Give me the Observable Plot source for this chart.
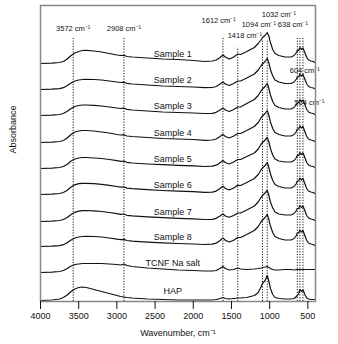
<!DOCTYPE html>
<html>
<head>
<meta charset="utf-8">
<script src="https://cdn.jsdelivr.net/npm/d3@7"></script>
<script src="https://cdn.jsdelivr.net/npm/@observablehq/plot@0.6"></script>
<style>
  html, body { margin: 0; padding: 0; background: #fff; }
  #chart svg { display: block; }
</style>
</head>
<body>
<div id="chart"></div>
<script>
// Wavenumber grid (cm-1)
const wavenumber = [4000,3850,3750,3700,3650,3600,3550,3500,3450,3400,
 3300,3200,3100,3000,2950,2908,2870,2800,2600,2400,
 2200,2000,1850,1750,1700,1650,1612,1580,1530,1470,
 1418,1380,1300,1200,1150,1110,1094,1060,1032,1010,
 990,960,930,880,800,720,680,650,638,620,
 604,585,564,540,515,490,460,430,400];

// Absorbance (arbitrary units, relative to each trace's baseline)
const sample1 = [0,0.3,1,2,4.5,8,10.5,12,13,13.2,
 12.5,11.5,10,8.5,8,8.2,7,6.5,5.5,4.5,
 4,3,2,2.5,3.5,6,8.5,6.5,4.5,6.5,
 9.5,9,12,16,20,24,26,28,31,27,
 21,14,10,8,6.5,6.5,8,11,13,13,
 16,14,15.5,11,6,3.5,2.5,2,0.5];
const sample2 = [0,0.3,0.8,1.8,4,6.5,8.5,9.5,10,10.2,
 10,9.5,8.5,7.5,7,7.3,6.2,5.5,4.5,3.5,
 3,2.5,1.8,2,3,5.5,7.5,5.5,4,6,
 8.5,8.5,11.5,15.5,19.5,24,25.5,28,31,26.5,
 20,13.5,9.5,7.5,6,6,7.5,10.5,12.5,12.5,
 15.5,13.5,15,10.5,5.5,3,2,1.5,0.5];
const sample3 = [0,0.3,1,2,4.2,7,9,10,10.5,10.5,
 10.2,9.5,8.5,7.5,7,7.4,6.2,5.5,4.5,3.5,
 3,2.5,2,2.2,3.2,5.5,7.5,5.5,4,6,
 8.5,8.5,12,16,20,25,26.5,29,32,27,
 20.5,14,10,8,6.5,6.5,8,11,13,13,
 16,14,15.5,11,6,3.5,2.5,2,0.5];
const sample4 = [0,0.3,1,2,4.5,8,10.5,11.5,12,12,
 11.5,10.5,9.5,8,7.5,7.8,6.5,6,5,4,
 3.5,3,2.2,2.5,3.5,6,8,6,4.5,6.5,
 9,9,12,16,20,25,26.5,29,32,27,
 20.5,14,10,8,6.5,6.5,8,11,13.5,13.5,
 16.5,14.5,16,11,6,3.5,2.5,2,0.5];
const sample5 = [0,0.3,1,2,4.2,7.5,9.5,10.5,11,11,
 10.5,10,9,7.8,7.2,7.5,6.2,5.5,4.5,3.8,
 3.2,2.7,2,2.3,3.3,5.8,8,6,4.5,6.5,
 9,9,12,15.5,19.5,24.5,26,28.5,31,26.5,
 20,13.5,9.5,7.5,6.5,6.5,8,11,13,13,
 16,14,15.5,11,6,3.5,2.5,2,0.5];
const sample6 = [0,0.3,1,2,4.3,7.5,9.7,10.8,11.2,11.2,
 10.8,10.2,9.2,8,7.4,7.7,6.4,5.8,4.8,4,
 3.4,2.8,2.1,2.4,3.4,6,8.2,6,4.5,6.5,
 9.2,9,12,16,20,25,26.5,29,32,27,
 20.5,14,10,8,6.5,6.5,8,11,13.5,13.5,
 16.5,14.5,16,11,6,3.5,2.5,2,0.5];
const sample7 = [0,0.3,1,2,4,7,9.2,10.3,10.8,11,
 10.6,10,9,7.8,7.2,7.5,6.2,5.6,4.6,3.8,
 3.2,2.6,2,2.2,3.2,5.5,7.5,5.5,4.2,6,
 8.5,8.5,11.5,15.5,19.5,24.5,26,28.5,31,26,
 19.5,13.5,9.5,7.5,6.5,6.5,8,11,13,13,
 16,14,15.5,11,6,3.5,2.5,2,0.5];
const sample8 = [0,0.3,0.9,1.8,3.8,6.5,8.5,9.5,10,10.2,
 10,9.5,8.5,7.3,6.8,7.1,6,5.4,4.4,3.6,
 3,2.5,2,2.3,3.3,6,8.5,6.3,4.5,6.3,
 9,9,12,16,20,25,26.5,29,32,27,
 20.5,14,10,8,6.5,6.5,8,11,13.5,13.5,
 16.5,14.5,16,11,6,3.5,2.5,2,0.5];
const tcnfNa = [0,0.3,1,2,4,6.5,8,8.5,9,9,
 9,9,8.5,8,7.5,8.5,7,6,4.5,3.5,
 2.5,2,1.5,1.5,2,4,6,4,2.5,3,
 4.5,3.5,3,3.5,4,4.5,5,5.5,6,5,
 4,3,2.5,2.5,3,3,2.5,3,3,3,
 3,3,3,3,3,3,3,3,3];
const hap = [0,0.5,1.5,3,5.5,9,11.5,13,13.5,13,
 11,9,7,5,4,3.5,3,2.5,1.5,1,
 0.5,0.5,0.5,0.5,1,2,3,2,1.5,2,
 2.5,2.5,3,5,8,14,17,20,25,19,
 12,6,3,2,1.5,1.5,2,4,5,7,
 11,9,10.5,6,2.5,1.5,1,1,1];

const seriesNames = ["Sample 1","Sample 2","Sample 3","Sample 4","Sample 5","Sample 6","Sample 7","Sample 8","TCNF Na salt","HAP"];
const seriesValues = [sample1,sample2,sample3,sample4,sample5,sample6,sample7,sample8,tcnfNa,hap];
const offsets = [238,212,186,159,133,107,80,55,29,1];

// Marked peaks (cm-1)
const peakWavenumbers = [3572, 2908, 1612, 1418, 1094, 1032, 638, 604, 564];
const peakLabels = ["3572 cm⁻¹","2908 cm⁻¹","1612 cm⁻¹","1418 cm⁻¹","1094 cm⁻¹","1032 cm⁻¹","638 cm⁻¹","604 cm⁻¹","564 cm⁻¹"];
const xTicks = [4000,3500,3000,2500,2000,1500,1000,500];

// Build tables
const traces = [];
seriesNames.forEach((name, i) => {
  wavenumber.forEach((w, j) => traces.push({series: name, wn: w, y: offsets[i] + seriesValues[i][j]}));
});
const labelRows = seriesNames.map((name, i) => ({name, wn: 2270, y: offsets[i] + 9}));

const lineTop = {3572:264, 2908:264, 1612:264, 1418:254, 1094:262, 1032:262, 638:264, 604:264, 564:264};
const peakRules = peakWavenumbers.map(w => ({wn: w, y1: 0, y2: lineTop[w]}));
const labelPos = {
  3572: {wn: 3572, y: 273}, 2908: {wn: 2908, y: 273},
  1612: {wn: 1667, y: 281}, 1418: {wn: 1326, y: 266},
  1094: {wn: 1142, y: 277}, 1032: {wn: 880, y: 287},
  638: {wn: 696, y: 277}, 604: {wn: 540, y: 231}, 564: {wn: 480, y: 199}
};
const peakText = peakWavenumbers.map((w, i) => ({text: peakLabels[i], ...labelPos[w]}));

const chart = Plot.plot({
  width: 338,
  height: 344,
  marginTop: 5,
  marginLeft: 40,
  marginRight: 23,
  marginBottom: 43,
  style: {fontFamily: "'Liberation Sans', Arial, sans-serif", fontSize: "9px", color: "#111", background: "#fff"},
  x: {domain: [4000, 400]},
  y: {domain: [0, 296], axis: null},
  marks: [
    Plot.ruleX(peakRules, {x: "wn", y1: "y1", y2: "y2", stroke: "#111", strokeWidth: 1, strokeDasharray: "1.2,1.5"}),
    Plot.line(traces, {x: "wn", y: "y", z: "series", stroke: "#111", strokeWidth: 1.2}),
    Plot.text(labelRows, {x: "wn", y: "y", text: "name", fontSize: 9, fill: "#111"}),
    Plot.text(peakText, {x: "wn", y: "y", text: "text", fontSize: 7.5, fill: "#111"}),
    Plot.frame({stroke: "#888", strokeWidth: 1.5}),
    Plot.axisX({ticks: xTicks, tickFormat: d => String(d), tickSize: 8, tickPadding: 3, fontSize: 9, label: "Wavenumber, cm⁻¹", labelAnchor: "center", labelArrow: "none", labelOffset: 34}),
    Plot.text(["Absorbance"], {frameAnchor: "left", rotate: -90, dx: -27, fontSize: 9, fill: "#111"})
  ]
});
document.getElementById("chart").appendChild(chart);
</script>
</body>
</html>
